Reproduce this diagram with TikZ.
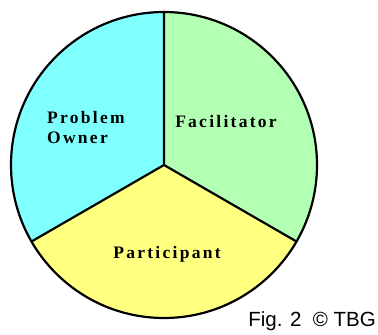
\documentclass[tikz,border=0pt]{standalone}
\usepackage{fontspec}
\setmainfont{Liberation Serif}
\newfontfamily\labelfont[LetterSpace=13]{Liberation Serif}
\newfontfamily\capfont{Liberation Sans}
\definecolor{ownercol}{RGB}{128,255,255}
\definecolor{facilcol}{RGB}{179,255,179}
\definecolor{partcol}{RGB}{255,255,128}
\begin{document}
\begin{tikzpicture}[x=1pt,y=1pt,
  slice/.style={draw=black,line width=2.2pt,line join=round},
  role/.style={font=\labelfont\bfseries\fontsize{17.5}{20}\selectfont,inner sep=0pt,anchor=base},
  capt/.style={font=\capfont\fontsize{20.5}{22}\selectfont,inner sep=0pt,anchor=base east}]
  \useasboundingbox (0,-335) rectangle (378,0);
  \coordinate (c) at (164,-165);
  % three equal sectors of the pie
  \fill[ownercol] (c) -- ++(90:153) arc[start angle=90,end angle=210,radius=153] -- cycle;
  \fill[partcol] (c) -- ++(210:153) arc[start angle=210,end angle=330,radius=153] -- cycle;
  \fill[facilcol] (c) -- ++(330:153) arc[start angle=-30,end angle=90,radius=153] -- cycle;
  % outline and dividers
  \draw[slice] (c) circle[radius=153];
  \path (c) ++(90:153) coordinate (t) (c) ++(210:153) coordinate (l) (c) ++(330:153) coordinate (r);
  \draw[slice] (c) -- (t) (c) -- (l) (c) -- (r);
  % labels
  \node[role,anchor=base west] (po1) at (47,-123) {Problem};
  \node[role,anchor=base west] (po2) at (47,-143) {Owner};
  \node[role] (fa) at (226,-127) {Facilitator};
  \node[role] (pa) at (167,-258) {Participant};
  \node[capt] (cap) at (376,-326) {Fig. 2\ \ © TBG};
\end{tikzpicture}
\end{document}
